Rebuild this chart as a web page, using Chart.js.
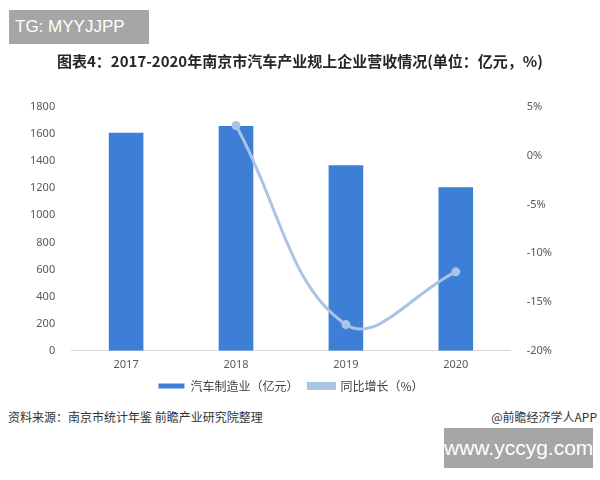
<!DOCTYPE html>
<html>
<head>
<meta charset="utf-8">
<script src="https://cdn.jsdelivr.net/npm/chart.js@4.4.0/dist/chart.umd.min.js"></script>
<style>
  body { margin: 0; background: #fff; font-family: "Noto Sans CJK SC", "Noto Sans", sans-serif; }
  #wrap { position: relative; width: 600px; height: 480px; overflow: hidden; }
  #c { position: absolute; left: 0; top: 0; }
  .tg { position: absolute; left: 9px; top: 10px; width: 140px; height: 34px; background: #a6a6a6; color: #fff; font: 17px "Liberation Sans", Arial, sans-serif; line-height: 34px; padding-left: 6px; box-sizing: border-box; }
  .title { position: absolute; left: 0; width: 600px; top: 50px; text-align: center; font-size: 15px; font-weight: bold; color: #262626; }
  .src { position: absolute; left: 8px; top: 408px; font-size: 12px; color: #333; }
  .app { position: absolute; right: 3px; top: 408px; font-size: 12px; color: #333; }
  .www { position: absolute; left: 444px; top: 428px; width: 149px; height: 40px; background: #a6a6a6; color: #fff; font: 21px "Liberation Sans", Arial, sans-serif; line-height: 40px; text-align: center; }
</style>
</head>
<body>
<div id="wrap">
  <canvas id="c" width="600" height="402"></canvas>
  <div class="tg">TG: MYYJJPP</div>
  <div class="title">图表4：2017-2020年南京市汽车产业规上企业营收情况(单位：亿元，%)</div>
  <div class="src">资料来源：南京市统计年鉴 前瞻产业研究院整理</div>
  <div class="app">@前瞻经济学人APP</div>
  <div class="www">www.yccyg.com</div>
</div>
<script>
  var years = ["2017", "2018", "2019", "2020"];
  var revenue = [1610, 1660, 1370, 1207];
  var growth = [null, 3.1, -17.3, -11.9];

  var tickFont = { family: "Noto Sans", size: 11 };

  new Chart("c", {
    type: "bar",
    data: {
      labels: years,
      datasets: [{
        type: "line",
        label: "同比增长（%）",
        data: growth,
        yAxisID: "y1",
        borderColor: "#a9c4e4",
        backgroundColor: "#a9c4e4",
        borderWidth: 3,
        pointRadius: 3,
        pointBackgroundColor: "#a9c4e4",
        tension: 0.4,
        order: 0
      }, {
        label: "汽车制造业（亿元）",
        data: revenue,
        yAxisID: "y",
        backgroundColor: "#3d7fd6",
        barPercentage: 0.63,
        categoryPercentage: 0.5,
        order: 1
      }]
    },
    options: {
      responsive: false,
      animation: false,
      layout: { padding: { top: 107, left: 22, right: 40, bottom: 0 } },
      plugins: {
        legend: {
          position: "bottom",
          reverse: true,
          labels: {
            font: { family: "Noto Sans CJK SC", size: 12 },
            color: "#404040",
            boxWidth: 26,
            boxHeight: 5,
            padding: 10
          }
        },
        tooltip: { enabled: false }
      },
      scales: {
        x: {
          grid: { display: false },
          border: { color: "#d9d9d9" },
          ticks: { font: tickFont, color: "#595959", padding: -1 }
        },
        y: {
          position: "left",
          min: 0, max: 1800,
          ticks: {
            stepSize: 200, font: tickFont, color: "#595959", padding: 8,
            callback: function (v) { return String(v); }
          },
          grid: { display: false },
          border: { display: false }
        },
        y1: {
          position: "right",
          min: -20, max: 5,
          ticks: {
            stepSize: 5, font: tickFont, color: "#595959", padding: 8,
            callback: function (v) { return v + "%"; }
          },
          grid: { display: false },
          border: { display: false }
        }
      }
    }
  });
</script>
</body>
</html>
